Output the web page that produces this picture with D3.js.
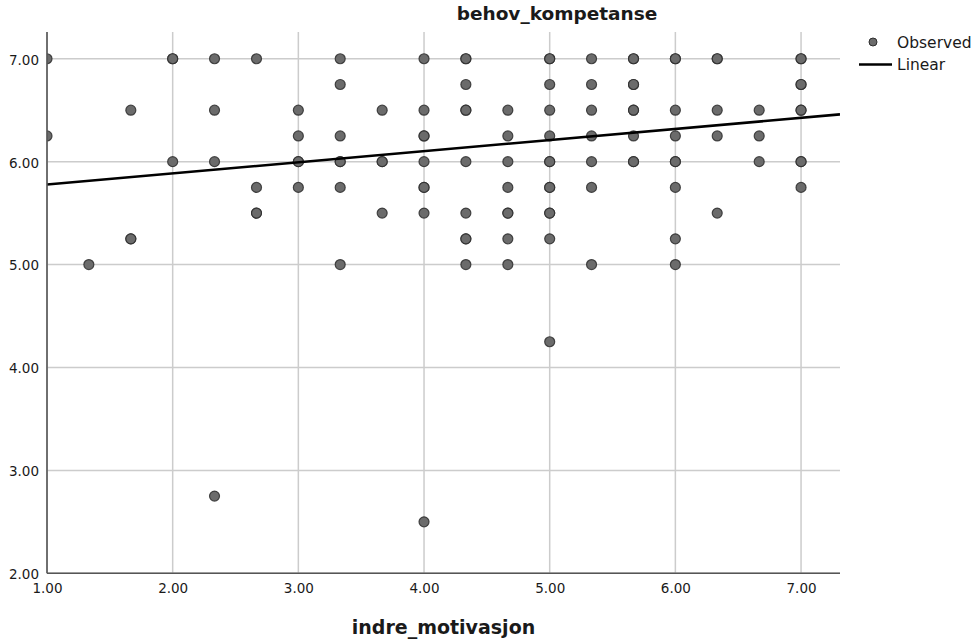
<!DOCTYPE html>
<html>
<head>
<meta charset="utf-8">
<script src="https://cdn.jsdelivr.net/npm/d3@7"></script>
<style>
  html, body { margin: 0; padding: 0; background: #fff; }
  svg { display: block; }
  text { font-family: "DejaVu Sans", sans-serif; fill: #1a1a1a; }
</style>
</head>
<body>
<svg id="chart" width="977" height="644"></svg>
<script>
// ---- data ----
const chartTitle = "behov_kompetanse";
const xTitle = "indre_motivasjon";
const xTicks = [1, 2, 3, 4, 5, 6, 7];
const yTicks = [2, 3, 4, 5, 6, 7];
const legendLabels = ["Observed", "Linear"];

// observed points, grouped by x value (indre_motivasjon)
const colX = [1, 1.333, 1.667, 2, 2.333, 2.667, 3, 3.333, 3.667, 4, 4.333, 4.667, 5, 5.333, 5.667, 6, 6.333, 6.667, 7];
const colY = [
  [7.0, 6.25],
  [5.0],
  [6.5, 5.25, 5.25],
  [7.0, 7.0, 6.0],
  [7.0, 6.5, 6.0, 2.75],
  [7.0, 5.75, 5.5, 5.5],
  [6.5, 6.25, 6.0, 6.0, 5.75],
  [7.0, 6.75, 6.25, 6.0, 6.0, 5.75, 5.0],
  [6.5, 6.0, 6.0, 5.5],
  [7.0, 6.5, 6.25, 6.25, 6.0, 5.75, 5.75, 5.5, 2.5],
  [7.0, 7.0, 6.75, 6.5, 6.5, 6.0, 5.5, 5.25, 5.25, 5.0],
  [6.5, 6.25, 6.0, 5.75, 5.5, 5.5, 5.25, 5.0],
  [7.0, 7.0, 6.75, 6.5, 6.25, 6.0, 6.0, 5.75, 5.75, 5.5, 5.5, 5.25, 4.25],
  [7.0, 6.75, 6.5, 6.25, 6.0, 5.75, 5.0],
  [7.0, 7.0, 6.75, 6.75, 6.5, 6.5, 6.25, 6.0, 6.0],
  [7.0, 7.0, 6.5, 6.25, 6.0, 6.0, 5.75, 5.25, 5.0],
  [7.0, 7.0, 6.5, 6.25, 5.5],
  [6.5, 6.25, 6.0],
  [7.0, 7.0, 6.75, 6.75, 6.5, 6.5, 6.0, 6.0, 5.75]
];

// linear fit (intercept, slope)
const fitIntercept = 5.670;
const fitSlope = 0.108;

// ---- layout ----
const svg = d3.select("#chart");
const plot = { left: 47, right: 840, top: 32, bottom: 573.3 };

const x = d3.scaleLinear().domain([1, 7.31]).range([plot.left, plot.right]);
const y = d3.scaleLinear().domain([2, 7.26]).range([plot.bottom, plot.top]);

const points = [];
colX.forEach((xv, i) => colY[i].forEach(yv => points.push({ x: xv, y: yv })));

svg.append("defs").append("clipPath").attr("id", "plotclip")
  .append("rect")
  .attr("x", plot.left).attr("y", plot.top - 10)
  .attr("width", plot.right - plot.left).attr("height", plot.bottom - plot.top + 10);

// grid lines
const grid = svg.append("g");
grid.selectAll("line.gx").data(xTicks).join("line")
  .attr("x1", d => x(d)).attr("x2", d => x(d))
  .attr("y1", plot.top).attr("y2", plot.bottom)
  .attr("stroke", "#cccccc").attr("stroke-width", 1.5);
grid.selectAll("line.gy").data(yTicks).join("line")
  .attr("x1", plot.left).attr("x2", plot.right)
  .attr("y1", d => y(d)).attr("y2", d => y(d))
  .attr("stroke", "#cccccc").attr("stroke-width", 1.5);

// points
const pg = svg.append("g").attr("clip-path", "url(#plotclip)");
pg.selectAll("circle").data(points).join("circle")
  .attr("cx", d => x(d.x)).attr("cy", d => y(d.y)).attr("r", 5)
  .attr("fill", "#6b6b6b").attr("stroke", "#2e2e2e").attr("stroke-width", 1.2)
  .attr("stroke-opacity", 0.85);

// fit line
const xd = x.domain();
pg.append("line")
  .attr("x1", x(xd[0])).attr("y1", y(fitIntercept + fitSlope * xd[0]))
  .attr("x2", x(xd[1])).attr("y2", y(fitIntercept + fitSlope * xd[1]))
  .attr("stroke", "#000").attr("stroke-width", 2.6);

// axes
const xAxis = d3.axisBottom(x).tickValues(xTicks).tickFormat(d3.format(".2f")).tickSize(0).tickPadding(10);
const yAxis = d3.axisLeft(y).tickValues(yTicks).tickFormat(d3.format(".2f")).tickSize(0).tickPadding(8);

const gx = svg.append("g").attr("transform", `translate(0,${plot.bottom})`).call(xAxis);
const gy = svg.append("g").attr("transform", `translate(${plot.left},0)`).call(yAxis);
[gx, gy].forEach(g => {
  g.select(".domain").attr("stroke", "#555").attr("stroke-width", 1.6);
  g.selectAll("text").style("font-family", "DejaVu Sans, sans-serif").style("font-size", "13.5px").attr("fill", "#1a1a1a");
});
gx.select(".domain").attr("d", `M${plot.left},0H${plot.right}`);
gy.select(".domain").attr("d", `M0,${plot.top}V${plot.bottom}`);
gy.selectAll("text").attr("dy", "0.4em");
gx.selectAll("text").attr("dy", "0.75em");

// titles
svg.append("text").attr("x", 557).attr("y", 20).attr("text-anchor", "middle")
  .style("font-weight", "bold").style("font-size", "18.5px").text(chartTitle);
svg.append("text").attr("x", (plot.left + plot.right) / 2).attr("y", 634).attr("text-anchor", "middle")
  .style("font-weight", "bold").style("font-size", "19px").text(xTitle);

// legend
const lg = svg.append("g");
lg.append("circle").attr("cx", 873).attr("cy", 42).attr("r", 4)
  .attr("fill", "#6b6b6b").attr("stroke", "#2e2e2e").attr("stroke-width", 1);
lg.append("text").attr("x", 897).attr("y", 48).style("font-size", "15.5px").text(legendLabels[0]);
lg.append("line").attr("x1", 859).attr("x2", 892).attr("y1", 64.5).attr("y2", 64.5)
  .attr("stroke", "#000").attr("stroke-width", 2.6);
lg.append("text").attr("x", 897).attr("y", 70).style("font-size", "15.5px").text(legendLabels[1]);
</script>
</body>
</html>
